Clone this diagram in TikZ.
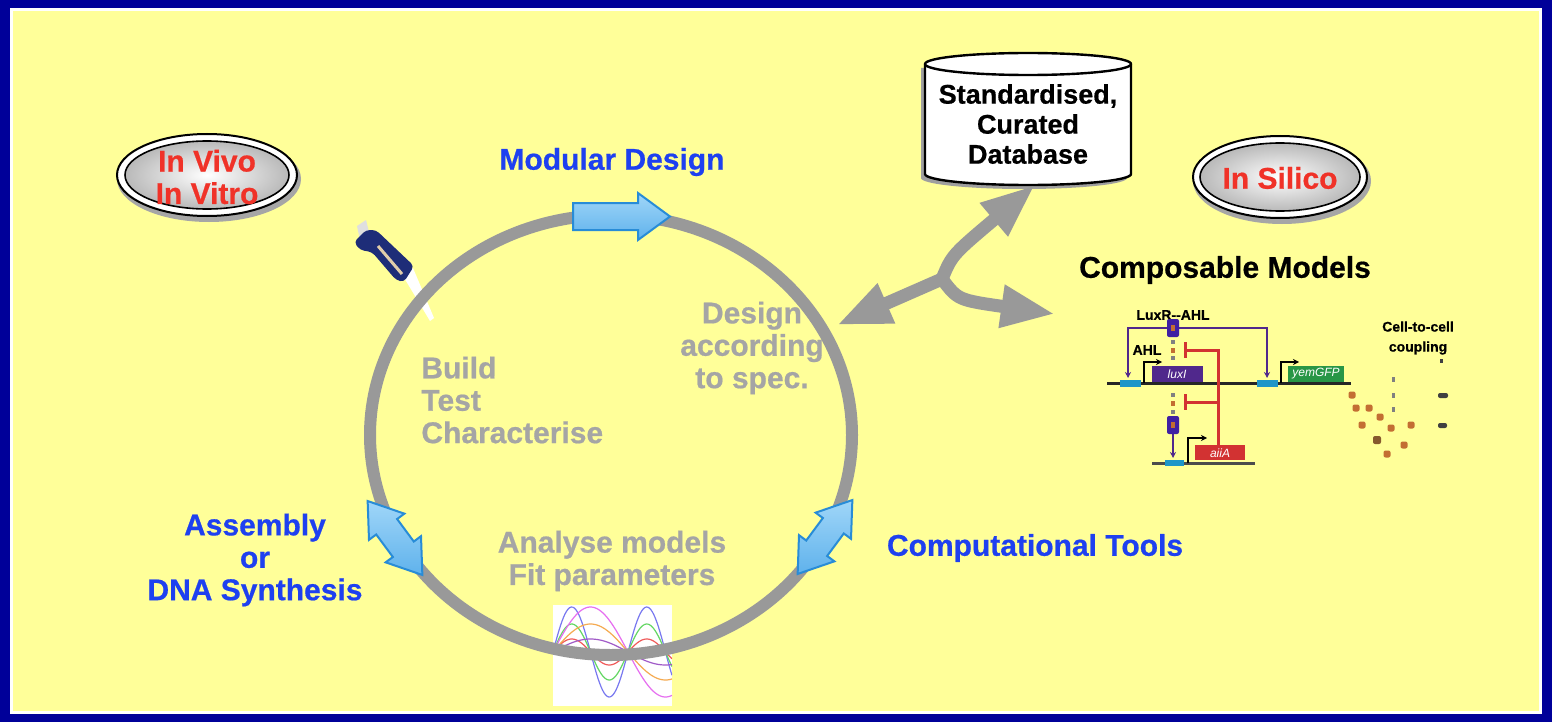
\documentclass[tikz,border=0pt]{standalone}
\usepackage{fontspec}
\setsansfont{Liberation Sans}
\newfontfamily\hv{Liberation Sans}[BoldFeatures={FakeBold=0.6}]
\usetikzlibrary{arrows.meta}

\definecolor{frameblue}{RGB}{0,0,153}
\definecolor{paper}{RGB}{255,255,153}
\definecolor{track}{RGB}{153,153,153}
\definecolor{labelblue}{RGB}{30,64,240}
\definecolor{labelgray}{RGB}{165,165,165}
\definecolor{labelred}{RGB}{240,50,40}
\definecolor{arrowlight}{RGB}{160,214,248}
\definecolor{arrowdark}{RGB}{95,178,236}
\definecolor{arrowedge}{RGB}{40,140,215}
\definecolor{luxpurple}{RGB}{80,40,140}
\definecolor{inhibred}{RGB}{210,50,50}
\definecolor{promoter}{RGB}{30,150,200}
\definecolor{gfpgreen}{RGB}{40,150,70}
\definecolor{cellbrown}{RGB}{195,110,50}
\definecolor{pipnavy}{RGB}{30,45,120}

\tikzset{
  lbl/.style={font=\hv\bfseries\fontsize{15pt}{16.2pt}\selectfont, align=center, inner sep=0pt},
  dblbl/.style={font=\hv\bfseries\fontsize{13.5pt}{15pt}\selectfont, align=center, inner sep=0pt},
  small/.style={font=\hv\bfseries\fontsize{7pt}{10pt}\selectfont, align=center, inner sep=0pt},
  genelbl/.style={font=\sffamily\itshape\fontsize{6pt}{7pt}\selectfont, text=white, inner sep=0pt},
  garrow/.style={draw=track, line width=6.5pt, line cap=round, -{Triangle[length=27pt,width=20pt]}},
  bluearrow/.style={top color=arrowlight, bottom color=arrowdark, draw=arrowedge, line width=1pt, line join=miter},
  ovalrim/.style={fill=white, draw=black, line width=1pt},
  ovalface/.style={inner color=white, outer color=gray!55, draw=black, line width=0.8pt},
  curve/.style={line width=0.6pt},
}

\begin{document}
\begin{tikzpicture}[x=0.5pt, y=-0.5pt]
  % frame and paper
  \useasboundingbox (0,0) rectangle (1552,722);
  \fill[frameblue] (0,0) rectangle (1552,722);
  \fill[white] (10,8) rectangle (1542,714);
  \fill[paper] (13,11) rectangle (1539,711);

  % small result plot under the cycle
  \fill[white] (553,605) rectangle (672,706);
  \begin{scope}
    \clip (553,605) rectangle (672,706);
    \draw[curve, color={rgb,255:red,120;green,120;blue,240}] plot[domain=553:672, samples=80] (\x, {652 - 45*sin(4.8*(\x-553))});
    \draw[curve, color={rgb,255:red,100;green,215;blue,100}] plot[domain=553:672, samples=80] (\x, {652 - 28*sin(4.8*(\x-553))});
    \draw[curve, color={rgb,255:red,240;green,90;blue,90}] plot[domain=553:672, samples=80] (\x, {652 - 13*sin(4.8*(\x-553))});
    \draw[curve, color={rgb,255:red,230;green,110;blue,240}] plot[domain=553:672, samples=80] (\x, {652 - 45*sin(2.4*(\x-553))});
    \draw[curve, color={rgb,255:red,245;green,170;blue,80}] plot[domain=553:672, samples=80] (\x, {652 - 28*sin(2.4*(\x-553))});
    \draw[curve, color={rgb,255:red,160;green,90;blue,200}] plot[domain=553:672, samples=80] (\x, {652 - 13*sin(2.4*(\x-553))});
  \end{scope}

  % pipette
  \fill[gray!25] (357,226) -- (366,220) -- (370,236) -- (360,240) -- cycle;
  \fill[white] (403,276) -- (413,268) -- (434,318) -- (430,321) -- cycle;
  \fill[pipnavy, rounded corners=2pt] (354,242) -- (366,230) -- (376,230) -- (414,266) -- (404,282) -- (396,280) -- (372,252) -- (360,250) -- cycle;
  \draw[color={rgb,255:red,225;green,205;blue,170}, line width=1.5pt] (378,246) -- (402,274);

  % the design cycle
  \draw[track, line width=6pt] (611,435) ellipse [x radius=120.5pt, y radius=110pt];

  % arrows on the cycle
  \shade[bluearrow] (573,203) -- (638,203) -- (638,193) -- (670,216.5) -- (638,240) -- (638,230) -- (573,230) -- cycle;
  \begin{scope}[shift={(395,538)}, rotate=-53.5]
    \shade[bluearrow] (-46,0) -- (-14,-22) -- (-14,-13) -- (14,-13) -- (14,-22) -- (46,0) -- (14,22) -- (14,13) -- (-14,13) -- (-14,22) -- cycle;
  \end{scope}
  \begin{scope}[shift={(825,537)}, rotate=53.5]
    \shade[bluearrow] (-46,0) -- (-14,-22) -- (-14,-13) -- (14,-13) -- (14,-22) -- (46,0) -- (14,22) -- (14,13) -- (-14,13) -- (-14,22) -- cycle;
  \end{scope}

  % cycle labels
  \node[lbl, text=labelblue] (modular) at (612,162) {Modular Design};
  \node[lbl, text=labelgray] (design) at (752,348) {Design\\according\\to spec.};
  \node[lbl, text=labelgray, align=left, anchor=west] (build) at (421,400) {Build\\Test\\Characterise};
  \node[lbl, text=labelgray] (analyse) at (612,561) {Analyse models\\Fit parameters};
  \node[lbl, text=labelblue] (assembly) at (255,560) {Assembly\\or\\DNA Synthesis};
  \node[lbl, text=labelblue] (comptools) at (1035,548) {Computational Tools};

  % In vivo / in vitro badge
  \fill[gray!70] (209,179) ellipse [x radius=46pt, y radius=21.5pt];
  \filldraw[ovalrim] (207,175) ellipse [x radius=45pt, y radius=20.5pt];
  \shade[ovalface] (207,175) ellipse [x radius=41pt, y radius=17pt];
  \node[lbl, text=labelred] (invivo) at (207,177) {In Vivo\\In Vitro};

  % In silico badge
  \fill[gray!70] (1282,181) ellipse [x radius=44.5pt, y radius=21.5pt];
  \filldraw[ovalrim] (1280,177) ellipse [x radius=43.5pt, y radius=20.5pt];
  \shade[ovalface] (1280,177) ellipse [x radius=40pt, y radius=17pt];
  \node[lbl, text=labelred] (insilico) at (1280,178) {In Silico};

  % database cylinder
  \fill[gray!75] (921,68) -- (921,178) arc[start angle=180, end angle=360, x radius=51.5pt, y radius=5.5pt] -- (1127,68) -- cycle;
  \filldraw[fill=white, draw=black, line width=1.2pt] (925,64) -- (925,174) arc[start angle=180, end angle=360, x radius=51.5pt, y radius=5.5pt] -- (1131,64) arc[start angle=0, end angle=180, x radius=51.5pt, y radius=5.5pt] -- cycle;
  \draw[black, line width=1.2pt] (925,64) arc[start angle=180, end angle=360, x radius=51.5pt, y radius=5.5pt];
  \node[dblbl] (database) at (1028,124) {Standardised,\\Curated\\Database};

  % exchange between cycle, database and models
  \coordinate (hub) at (942,279);
  \coordinate (cycleend) at (837,325);
  \coordinate (dbend) at (1035,185);
  \coordinate (modelend) at (1055,314);
  \draw[garrow] (hub) -- (cycleend);
  \draw[garrow] (hub) .. controls (952,255) .. (dbend);
  \draw[garrow] (hub) .. controls (958,300) .. (modelend);

  % composable models
  \node[lbl, text=black] (composable) at (1225,270) {Composable Models};
  \node[small] (luxrahl) at (1173,315) {LuxR--AHL};
  \node[small] (ahl) at (1147,350) {AHL};

  % LuxR-AHL activation
  \draw[luxpurple, line width=1.2pt, -{Stealth[length=3pt,width=3pt]}] (1173,328) -| (1128,378);
  \draw[luxpurple, line width=1.2pt, -{Stealth[length=3pt,width=3pt]}] (1173,328) -| (1267,378);
  \draw[luxpurple, line width=1.2pt, -{Stealth[length=3pt,width=3pt]}] (1173,430) -- (1173,458);

  % main DNA strand
  \draw[black!85, line width=1.5pt] (1107,383) -- (1351,383);
  \fill[promoter] (1120,380) rectangle (1141,387);
  \fill[promoter] (1257,380) rectangle (1278,387);
  \fill[luxpurple] (1152,366) rectangle (1203,382);
  \node[genelbl] (luxI) at (1177,374) {luxI};
  \fill[gfpgreen] (1288,366) rectangle (1344,382);
  \node[genelbl] (gfp) at (1316,374) {yemGFP};
  \draw[black, line width=1.2pt, -{Stealth[length=3pt,width=3pt]}] (1144,383) -- (1144,362) -- (1162,362);
  \draw[black, line width=1.2pt, -{Stealth[length=3pt,width=3pt]}] (1281,383) -- (1281,362) -- (1299,362);

  % second DNA strand
  \draw[black!70, line width=1.5pt] (1152,463) -- (1255,463);
  \fill[promoter] (1165,460) rectangle (1184,466);
  \fill[inhibred] (1195,445) rectangle (1245,460);
  \node[genelbl] (aiiA) at (1220,453) {aiiA};
  \draw[black, line width=1.2pt, -{Stealth[length=3pt,width=3pt]}] (1188,463) -- (1188,438) -- (1207,438);

  % AiiA repression
  \draw[inhibred, line width=1.5pt] (1218,445) -- (1218,350) -- (1185,350);
  \draw[inhibred, line width=1.5pt] (1185,342) -- (1185,358);
  \draw[inhibred, line width=1.5pt] (1218,402) -- (1185,402);
  \draw[inhibred, line width=1.5pt] (1185,394) -- (1185,410);

  % AHL molecules and complexes
  \foreach \yy in {342,358,395,412} \fill[gray] (1171,\yy-2) rectangle (1175,\yy+2);
  \foreach \yy in {350,403} \fill[cellbrown] (1171,\yy-2.5) rectangle (1175,\yy+2.5);
  \foreach \yy in {328,425} {
    \fill[luxpurple!80!blue, rounded corners=1pt] (1167,\yy-9) rectangle (1179,\yy+9);
    \fill[cellbrown] (1171,\yy-3) rectangle (1175,\yy+3);
  }

  % cell-to-cell coupling
  \node[small] (coupling) at (1418,338) {Cell-to-cell\\coupling};
  \foreach \px/\py in {1352/395,1356/408,1369/408,1380/417,1362/425,1391/428,1411/425,1404/445,1387/454}
    \fill[cellbrown, rounded corners=1pt] (\px-3.5,\py-3.5) rectangle (\px+3.5,\py+3.5);
  \fill[brown!70!black, rounded corners=1pt] (1373,436) rectangle (1381,444);
  \foreach \py in {379,395,409} \fill[gray] (1391.5,\py-2.5) rectangle (1394.5,\py+2.5);
  \fill[black!75, rounded corners=1pt] (1438,393) rectangle (1448,398);
  \fill[black!75, rounded corners=1pt] (1438,423) rectangle (1447,428);
  \fill[black!75] (1440,359) rectangle (1443,363);
\end{tikzpicture}
\end{document}
